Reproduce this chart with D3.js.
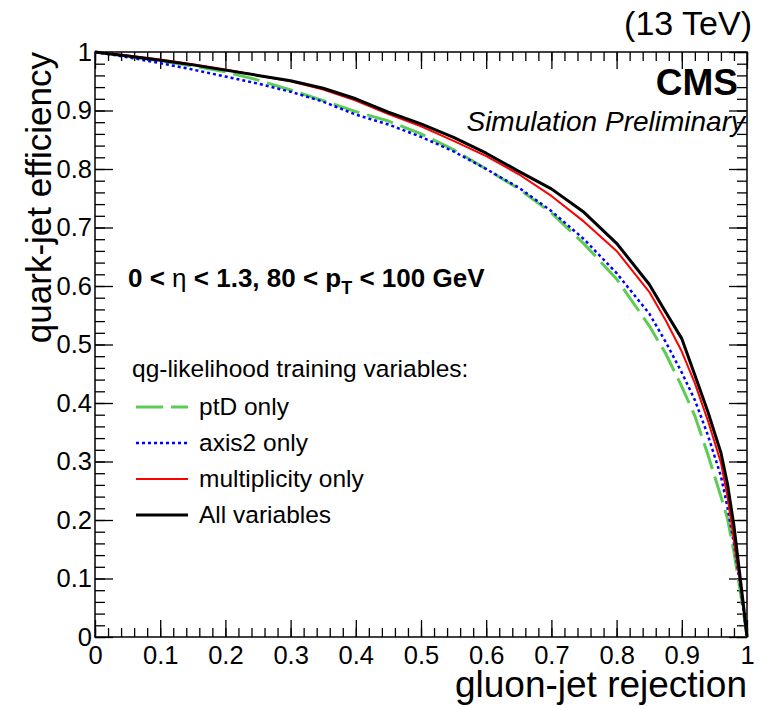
<!DOCTYPE html>
<html>
<head>
<meta charset="utf-8">
<script src="https://cdn.jsdelivr.net/npm/d3@7"></script>
<style>
  html, body { margin: 0; padding: 0; background: #fff; }
  svg { display: block; font-family: "Liberation Sans", Arial, Helvetica, sans-serif; }
</style>
</head>
<body>
<svg id="chart" width="765" height="707"></svg>
<script>
// Gluon-jet rejection grid shared by all ROC curves
const rejection = [0, 0.05, 0.1, 0.15, 0.2, 0.25, 0.3, 0.35, 0.4, 0.45, 0.5, 0.55, 0.6, 0.65,
                   0.7, 0.75, 0.8, 0.85, 0.875, 0.9, 0.92, 0.94, 0.96, 0.97, 0.98, 0.99, 0.995, 1.0];

// Quark-jet efficiency for each training-variable choice
const effPtD = [1.000, 0.993, 0.985, 0.976, 0.966, 0.952, 0.935, 0.917, 0.898, 0.882, 0.860, 0.833, 0.800, 0.766,
                0.725, 0.672, 0.612, 0.532, 0.485, 0.428, 0.378, 0.312, 0.240, 0.203, 0.145, 0.075, 0.038, 0];
const effAxis2 = [1.000, 0.991, 0.981, 0.970, 0.958, 0.946, 0.932, 0.915, 0.893, 0.876, 0.855, 0.830, 0.800, 0.768,
                  0.728, 0.680, 0.622, 0.553, 0.505, 0.452, 0.405, 0.345, 0.275, 0.222, 0.160, 0.085, 0.043, 0];
const effMult = [1.000, 0.994, 0.987, 0.979, 0.970, 0.960, 0.950, 0.936, 0.917, 0.894, 0.873, 0.848, 0.822, 0.791,
                 0.754, 0.710, 0.660, 0.590, 0.542, 0.488, 0.434, 0.370, 0.298, 0.240, 0.165, 0.088, 0.045, 0];
const effAll = [1.000, 0.993, 0.986, 0.978, 0.969, 0.960, 0.951, 0.938, 0.920, 0.897, 0.877, 0.854, 0.827, 0.796,
                0.766, 0.726, 0.673, 0.603, 0.556, 0.510, 0.448, 0.385, 0.315, 0.262, 0.190, 0.097, 0.050, 0];

const seriesNames = ["ptD only", "axis2 only", "multiplicity only", "All variables"];
const seriesColors = ["#5ccd52", "#0000ff", "#ff0000", "#000000"];
const seriesDash = ["27,8", "3,3", null, null];
const seriesWidth = [3, 2.5, 2, 3];
const seriesValues = [effPtD, effAxis2, effMult, effAll];

// Axis tick values
const majorTicks = [0, 0.1, 0.2, 0.3, 0.4, 0.5, 0.6, 0.7, 0.8, 0.9, 1];
const majorLabels = ["0", "0.1", "0.2", "0.3", "0.4", "0.5", "0.6", "0.7", "0.8", "0.9", "1"];
const minorTicks = d3.range(0, 51).map(i => i / 50);

const svg = d3.select("#chart");
const plotLeft = 95, plotRight = 747, plotTop = 52, plotBottom = 637;

const x = d3.scaleLinear().domain([0, 1]).range([plotLeft, plotRight]);
const y = d3.scaleLinear().domain([0, 1]).range([plotBottom, plotTop]);

const fmt = d => majorLabels[majorTicks.indexOf(d)];

function styleAxis(g) {
  g.select(".domain").remove();
  g.selectAll(".tick line").attr("stroke", "#000").attr("stroke-width", 1.3);
  g.selectAll("text").attr("fill", "#000").attr("font-size", 25.5)
    .attr("font-family", "'Liberation Sans', Arial, Helvetica, sans-serif");
}

// Unlabelled tick rows: drop the empty label nodes
function tickOnly(g) {
  styleAxis(g);
  g.selectAll("text").remove();
}

// Bottom axis (labelled) with inward ticks
svg.append("g").attr("transform", `translate(0,${plotBottom})`)
  .call(d3.axisBottom(x).tickValues(minorTicks).tickSizeInner(-9).tickSizeOuter(0))
  .call(tickOnly);
svg.append("g").attr("transform", `translate(0,${plotBottom})`)
  .call(d3.axisBottom(x).tickValues(majorTicks).tickFormat(fmt).tickSizeInner(-17).tickSizeOuter(0).tickPadding(9))
  .call(styleAxis);

// Top mirror ticks
svg.append("g").attr("transform", `translate(0,${plotTop})`)
  .call(d3.axisTop(x).tickValues(minorTicks).tickSizeInner(-9).tickSizeOuter(0))
  .call(tickOnly);
svg.append("g").attr("transform", `translate(0,${plotTop})`)
  .call(d3.axisTop(x).tickValues(majorTicks).tickSizeInner(-17).tickSizeOuter(0))
  .call(tickOnly);

// Left axis (labelled)
svg.append("g").attr("transform", `translate(${plotLeft},0)`)
  .call(d3.axisLeft(y).tickValues(minorTicks).tickSizeInner(-10).tickSizeOuter(0))
  .call(tickOnly);
svg.append("g").attr("transform", `translate(${plotLeft},0)`)
  .call(d3.axisLeft(y).tickValues(majorTicks).tickFormat(fmt).tickSizeInner(-18).tickSizeOuter(0).tickPadding(3))
  .call(styleAxis);

// Right mirror ticks
svg.append("g").attr("transform", `translate(${plotRight},0)`)
  .call(d3.axisRight(y).tickValues(minorTicks).tickSizeInner(-10).tickSizeOuter(0))
  .call(tickOnly);
svg.append("g").attr("transform", `translate(${plotRight},0)`)
  .call(d3.axisRight(y).tickValues(majorTicks).tickSizeInner(-18).tickSizeOuter(0))
  .call(tickOnly);

// Frame
svg.append("rect")
  .attr("x", plotLeft).attr("y", plotTop)
  .attr("width", plotRight - plotLeft).attr("height", plotBottom - plotTop)
  .attr("fill", "none").attr("stroke", "#000").attr("stroke-width", 1.5);

// ROC curves
const line = d3.line()
  .x((d, i) => x(rejection[i]))
  .y(d => y(d));

svg.append("g").selectAll("path")
  .data(seriesValues)
  .join("path")
  .attr("d", d => line(d))
  .attr("fill", "none")
  .attr("stroke", (d, i) => seriesColors[i])
  .attr("stroke-width", (d, i) => seriesWidth[i])
  .attr("stroke-dasharray", (d, i) => seriesDash[i])
  .attr("stroke-linejoin", "round");

// Axis titles
svg.append("text")
  .attr("x", plotRight).attr("y", 697)
  .attr("text-anchor", "end").attr("font-size", 37).attr("fill", "#000")
  .text("gluon-jet rejection");

svg.append("text")
  .attr("transform", `translate(51,${plotTop}) rotate(-90)`)
  .attr("text-anchor", "end").attr("font-size", 35).attr("fill", "#000")
  .text("quark-jet efficiency");

// Header labels
svg.append("text")
  .attr("x", 752).attr("y", 35)
  .attr("text-anchor", "end").attr("font-size", 34).attr("fill", "#000")
  .text("(13 TeV)");

svg.append("text")
  .attr("x", 738).attr("y", 95)
  .attr("text-anchor", "end").attr("font-size", 37).attr("font-weight", "bold").attr("fill", "#000")
  .text("CMS");

svg.append("text")
  .attr("x", 745).attr("y", 131)
  .attr("text-anchor", "end").attr("font-size", 28).attr("font-style", "italic").attr("fill", "#000")
  .text("Simulation Preliminary");

// Kinematic selection
const sel = svg.append("text")
  .attr("x", 128).attr("y", 287)
  .attr("font-size", 26).attr("font-weight", "bold").attr("fill", "#000");
sel.append("tspan").text("0 < ");
sel.append("tspan").attr("font-weight", "normal").text("η");
sel.append("tspan").text(" < 1.3, 80 < p");
sel.append("tspan").attr("font-size", 18).attr("dy", 7).text("T");
sel.append("tspan").attr("dy", -7).text(" < 100 GeV");

// Legend
const legend = svg.append("g");
legend.append("text")
  .attr("x", 132).attr("y", 377)
  .attr("font-size", 24.5).attr("fill", "#000")
  .text("qg-likelihood training variables:");

const rows = legend.selectAll("g.row")
  .data(seriesNames)
  .join("g")
  .attr("class", "row")
  .attr("transform", (d, i) => `translate(0,${407 + i * 36})`);

rows.append("line")
  .attr("x1", 136).attr("x2", 188)
  .attr("stroke", (d, i) => seriesColors[i])
  .attr("stroke-width", (d, i) => seriesWidth[i])
  .attr("stroke-dasharray", (d, i) => seriesDash[i]);

rows.append("text")
  .attr("x", 199).attr("y", 8)
  .attr("font-size", 24.5).attr("fill", "#000")
  .text(d => d);
</script>
</body>
</html>
